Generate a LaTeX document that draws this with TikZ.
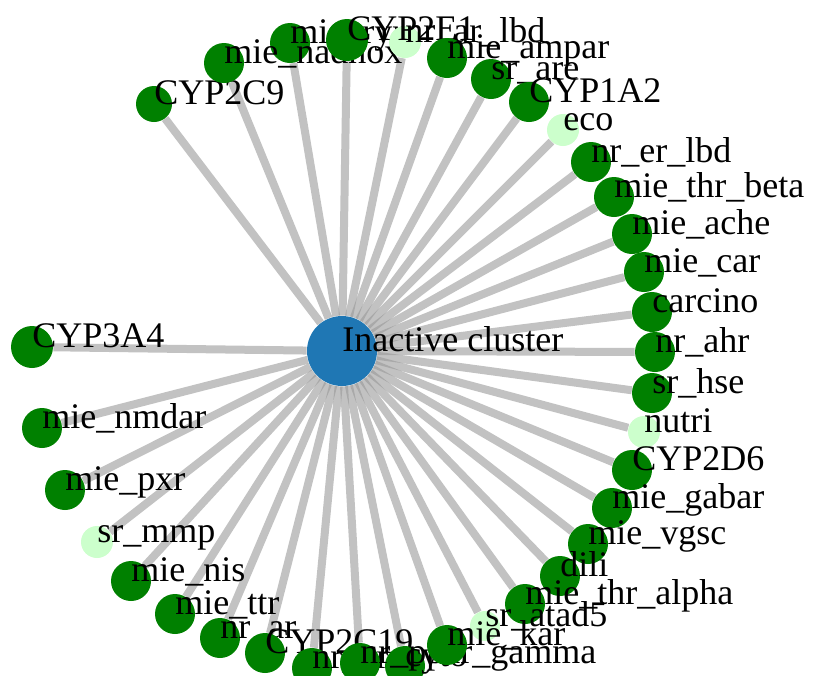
\documentclass[tikz,border=0pt]{standalone}
\usepackage{fontspec}
\setmainfont{Liberation Serif}
\usetikzlibrary{backgrounds}

\definecolor{dkgreen}{RGB}{0,128,0}
\definecolor{ltgreen}{RGB}{204,255,204}
\definecolor{hubblue}{RGB}{31,119,180}
\definecolor{linkgray}{RGB}{153,153,153}

\tikzset{
	link/.style={draw=linkgray, draw opacity=0.6, line width=4pt},
	hub/.style={circle, fill=hubblue, inner sep=0pt, minimum size=35pt},
	leaf/.style={circle, inner sep=0pt},
	lbl/.style={anchor=base west, inner sep=0pt, font=\fontsize{18}{18}\selectfont}
}

\begin{document}
\begin{tikzpicture}[x=0.5pt,y=-0.5pt]
		\useasboundingbox (0,0) rectangle (814,675);
		
		\node (ic) [hub] at (342,351) {};
		\node (iclbl) [lbl] at (ic.center) {Inactive cluster};
		
		% one circle + label per cluster member, drawn in this order
		\foreach \nm/\px/\py/\rr/\col/\txt in {
			ryr/290/43/20/dkgreen/mie\_ryr, cyptwocnine/154/104/18/dkgreen/CYP2C9, nadhox/224/63/20/dkgreen/mie\_nadhox,
			arlbd/405/42/16/ltgreen/nr\_ar\_lbd, cyptwoeone/347/40/21/dkgreen/CYP2E1, ampar/447/58/20/dkgreen/mie\_ampar,
			are/491/79/20/dkgreen/sr\_are, cyponeatwo/529/102/20/dkgreen/CYP1A2, eco/563/130/16/ltgreen/eco,
			erlbd/591/162/20/dkgreen/nr\_er\_lbd, thrbeta/614/197/20/dkgreen/mie\_thr\_beta, ache/632/234/20/dkgreen/mie\_ache,
			car/644/272/20/dkgreen/mie\_car, carcino/652/312/20/dkgreen/carcino, ahr/655/352/20/dkgreen/nr\_ahr,
			hse/652/393/20/dkgreen/sr\_hse, nutri/644/432/16/ltgreen/nutri, cyptwodsix/632/470/20/dkgreen/CYP2D6,
			gabar/612/508/20/dkgreen/mie\_gabar, vgsc/588/544/20/dkgreen/mie\_vgsc, dili/560/576/20/dkgreen/dili,
			thralpha/525/604/20/dkgreen/mie\_thr\_alpha, atadfive/485/626/15/ltgreen/sr\_atad5,
			cypthreeafour/32/347/21/dkgreen/CYP3A4, nmdar/42/428/20/dkgreen/mie\_nmdar, pxr/65/490/20/dkgreen/mie\_pxr,
			mmp/97/542/16/ltgreen/sr\_mmp, nis/131/581/20/dkgreen/mie\_nis, ttr/175/614/20/dkgreen/mie\_ttr,
			ar/220/638/20/dkgreen/nr\_ar, cyptwocnineteen/265/653/20/dkgreen/CYP2C19, er/312/668/20/dkgreen/nr\_er,
			cyto/405/666/20/dkgreen/cyto, ppargamma/360/663/20/dkgreen/nr\_ppar\_gamma, kar/447/645/20/dkgreen/mie\_kar}
		{
			\node (\nm) [leaf, fill=\col, minimum size=\rr pt] at (\px,\py) {};
			\node (\nm lbl) [lbl] at (\nm.center) {\txt};
			\begin{pgfonlayer}{background}
				\draw[link] (ic)--(\nm);
			\end{pgfonlayer}
		}
	\end{tikzpicture}
\end{document}
